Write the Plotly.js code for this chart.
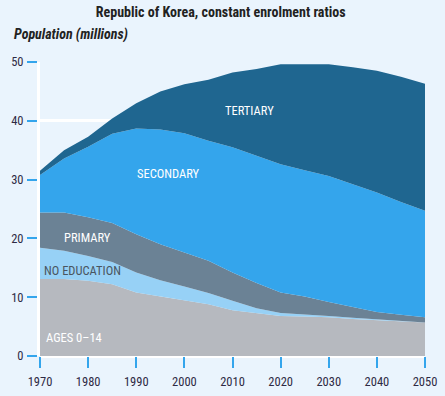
<!DOCTYPE html>
<html><head><meta charset="utf-8">
<script src="https://cdn.plot.ly/plotly-3.0.1.min.js"></script>
<style>html,body{margin:0;padding:0;background:#eaf4fd;}#chart{width:445px;height:396px;}</style>
</head><body><div id="chart"></div>
<script>
const years = [1970,1975,1980,1985,1990,1995,2000,2005,2010,2015,2020,2025,2030,2035,2040,2045,2050];
const ages014   = [13.1,13.1,12.8,12.2,10.8,10.1,9.5,8.8,7.8,7.3,6.8,6.7,6.6,6.3,6.1,5.8,5.7];
const noEducation = [5.3,4.8,4.2,3.8,3.4,2.8,2.3,1.9,1.6,0.8,0.5,0.4,0.2,0.2,0.1,0.1,0.0];
const primary   = [6.0,6.5,6.6,6.6,6.5,6.1,5.8,5.5,4.8,4.3,3.5,3.0,2.4,1.9,1.3,1.1,0.9];
const secondary = [6.4,9.2,12.0,15.2,18.0,19.5,20.3,20.4,21.3,21.6,21.8,21.5,21.4,20.8,20.3,19.2,18.1];
const tertiary  = [0.7,1.4,1.7,2.6,4.3,6.5,8.3,10.4,12.7,14.8,17.0,18.0,19.0,19.9,20.7,21.3,21.6];
const xTicks = [1970,1980,1990,2000,2010,2020,2030,2040,2050];
const yTicks = [0,10,20,30,40,50];

const FONT = '"Roboto Condensed","DejaVu Sans Condensed",sans-serif';
function tr(name, y, color){
  return {x: years, y: y, name: name, type:'scatter', mode:'lines', stackgroup:'one',
    line:{width:0, color:color}, fillcolor:color, hoverinfo:'skip'};
}
const data = [
  tr('Ages 0–14', ages014, '#b6b9bf'),
  tr('No education', noEducation, '#97d1f6'),
  tr('Primary', primary, '#6b8295'),
  tr('Secondary', secondary, '#34a5ec'),
  tr('Tertiary', tertiary, '#1f6690')
];
function lab(text, x, y, color){
  return {x:x, y:y, xref:'x', yref:'y', text:text, showarrow:false,
    font:{family:FONT, size:12.5, color:color}};
}
const layout = {
  width:445, height:396,
  paper_bgcolor:'#eaf4fd', plot_bgcolor:'#eaf4fd',
  margin:{l:40, r:20, t:62, b:40},
  showlegend:false,
  title:{text:'<b>Republic of Korea, constant enrolment ratios</b>', x:0.496, xanchor:'center', y:0.97, yanchor:'middle',
    font:{family:FONT, size:14, color:'#222'}},
  xaxis:{range:[1970,2050], tickvals:xTicks, ticks:'outside', ticklen:11, tickwidth:2, tickcolor:'#34a5ec',
    ticklabelstandoff:3,
    showgrid:false, zeroline:false, showline:false,
    tickfont:{family:FONT, size:12.5, color:'#2e2a44'}},
  yaxis:{range:[0,50], tickvals:yTicks, ticks:'outside', ticklen:10, tickwidth:2, tickcolor:'#34a5ec',
    ticklabelstandoff:1,
    showgrid:true, gridcolor:'#ffffff', gridwidth:3, zeroline:true, zerolinecolor:'#ffffff', zerolinewidth:3,
    showline:true, linecolor:'#ffffff', linewidth:3,
    tickfont:{family:FONT, size:12.5, color:'#2e2a44'}},
  annotations:[
    {xref:'paper', yref:'paper', x:-0.073, y:1.092, xanchor:'left', yanchor:'middle', showarrow:false,
     text:'<b><i>Population (millions)</i></b>', font:{family:FONT, size:14, color:'#222'}},
    lab('TERTIARY', 2013.6, 41.8, '#ffffff'),
    lab('SECONDARY', 1996.7, 31.0, '#ffffff'),
    lab('PRIMARY', 1979.9, 20.2, '#ffffff'),
    lab('NO EDUCATION', 1978.9, 14.5, '#4a5560'),
    lab('AGES 0–14', 1977, 3.1, '#ffffff')
  ]
};
Plotly.newPlot('chart', data, layout, {displayModeBar:false, staticPlot:true});
</script></body></html>
